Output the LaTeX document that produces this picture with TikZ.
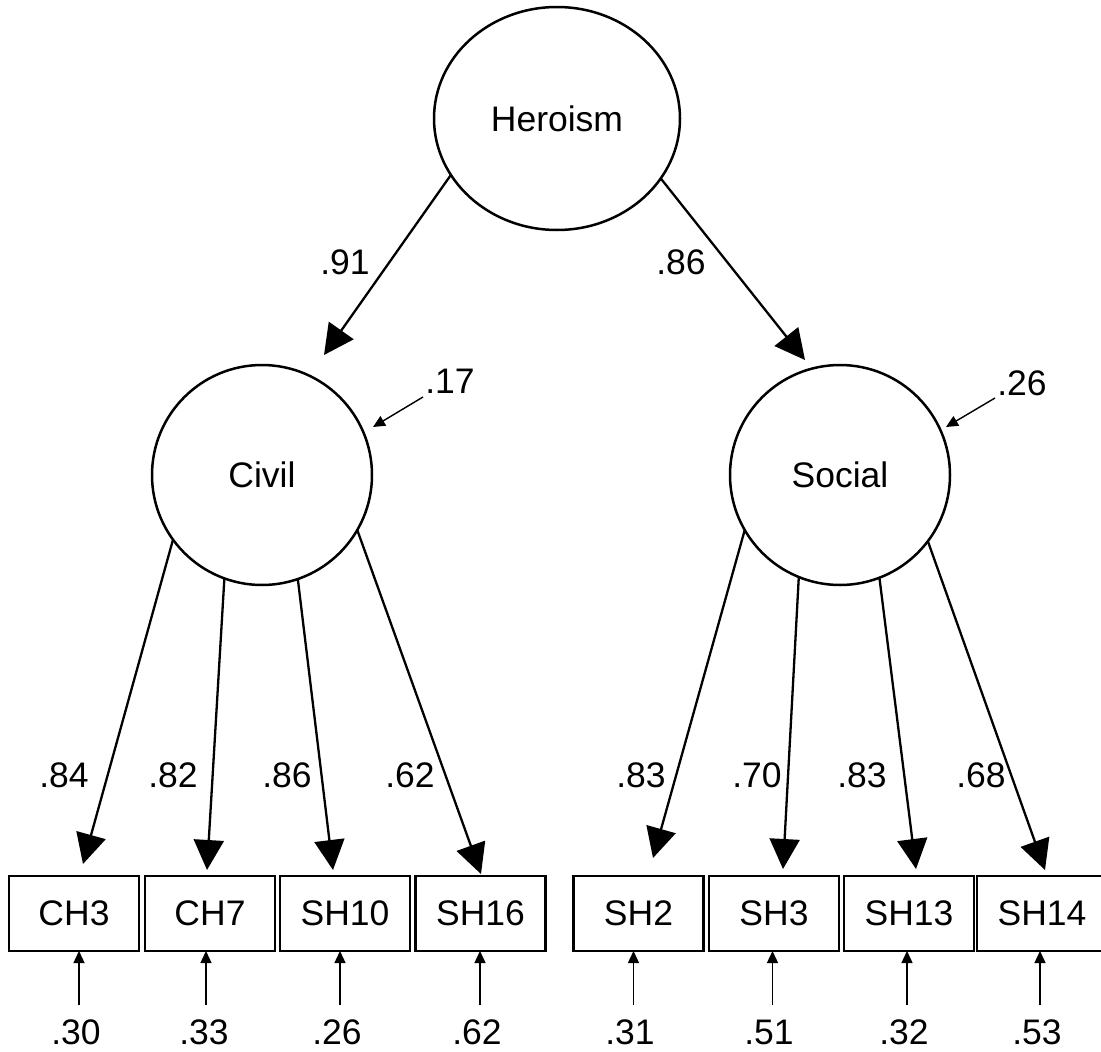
\documentclass[tikz,border=0pt]{standalone}
\usepackage{fontspec}
\setmainfont{Liberation Sans}
\usetikzlibrary{arrows.meta,shapes.geometric}
\begin{document}
\begin{tikzpicture}[x=1pt,y=-1pt,
  every node/.style={font=\fontsize{35.5}{40}\selectfont},
  latent/.style={draw,circle,line width=2.5pt,minimum size=220pt,inner sep=0pt,outer sep=0pt},
  toplat/.style={draw,ellipse,line width=2.5pt,minimum width=246pt,minimum height=223pt,inner sep=0pt,outer sep=0pt},
  obs/.style={draw,rectangle,line width=2.5pt,minimum width=130pt,minimum height=75pt,inner sep=0pt,outer sep=0pt},
  load/.style={line width=2.3pt,-{Triangle[length=30pt,width=30pt]}},
  res/.style={line width=1.4pt,-{Triangle[length=12pt,width=11pt]}},
  lbl/.style={inner sep=0pt}]
\useasboundingbox[fill=white] (0,0) rectangle (1101,1052);
% latent variables
\node[toplat] (her) at (557,118.5) {Heroism};
\node[latent] (civ) at (262,475) {Civil};
\node[latent] (soc) at (840,475) {Social};
% observed variables
\node[obs] (CH3)  at (74,913.5)   {CH3};
\node[obs] (CH7)  at (210,913.5)  {CH7};
\node[obs] (SH10) at (345,913.5)  {SH10};
\node[obs] (SH16) at (480.5,913.5){SH16};
\node[obs] (SH2)  at (638.5,913.5){SH2};
\node[obs] (SH3)  at (774,913.5)  {SH3};
\node[obs] (SH13) at (909,913.5)  {SH13};
\node[obs] (SH14) at (1042,913.5) {SH14};
% arrow tip coordinates
\coordinate (tciv) at (324,355);
\coordinate (tsoc) at (805,360);
\coordinate (tCH3) at (83,864);
\coordinate (tCH7) at (207,870);
\coordinate (tSH10) at (333,870);
\coordinate (tSH16) at (481,874);
\coordinate (tSH2) at (653,858);
\coordinate (tSH3) at (783,869);
\coordinate (tSH13) at (916,869);
\coordinate (tSH14) at (1045,870);
% second-order loadings
\draw[load] (her.208.5) -- (tciv);
\draw[load] (her.330.2) -- (tsoc);
\node[lbl] (l91) at (345,262) {.91};
\node[lbl] (l86) at (681,262) {.86};
% first-order loadings
\draw[load] (civ.216) -- (tCH3);
\draw[load] (civ.250.4) -- (tCH7);
\draw[load] (civ.289.6) -- (tSH10);
\draw[load] (civ.330.4) -- (tSH16);
\draw[load] (soc.210.4) -- (tSH2);
\draw[load] (soc.248.5) -- (tSH3);
\draw[load] (soc.291) -- (tSH13);
\draw[load] (soc.323) -- (tSH14);
\node[lbl] at (64,775) {.84};
\node[lbl] at (173,775) {.82};
\node[lbl] at (287,775) {.86};
\node[lbl] at (410,775) {.62};
\node[lbl] at (641,775) {.83};
\node[lbl] at (757,775) {.70};
\node[lbl] at (862,775) {.83};
\node[lbl] at (981,775) {.68};
% disturbances
\coordinate (dciv) at (423,397);
\coordinate (dcivt) at (373,427);
\coordinate (dsoc) at (995,398);
\coordinate (dsoct) at (946,427);
\draw[res] (dciv) -- (dcivt);
\draw[res] (dsoc) -- (dsoct);
\node[lbl] at (450,381) {.17};
\node[lbl] at (1022,383) {.26};
% residuals
\coordinate (e1) at (79,1005);
\coordinate (e2) at (206,1005);
\coordinate (e3) at (340,1005);
\coordinate (e4) at (480,1005);
\coordinate (e5) at (633.5,1005);
\coordinate (e6) at (772.5,1005);
\coordinate (e7) at (907,1005);
\coordinate (e8) at (1040,1005);
\draw[res] (e1) -- (e1 |- CH3.south);
\draw[res] (e2) -- (e2 |- CH7.south);
\draw[res] (e3) -- (e3 |- SH10.south);
\draw[res] (e4) -- (e4 |- SH16.south);
\draw[res] (e5) -- (e5 |- SH2.south);
\draw[res] (e6) -- (e6 |- SH3.south);
\draw[res] (e7) -- (e7 |- SH13.south);
\draw[res] (e8) -- (e8 |- SH14.south);
\node[lbl] at (76,1032) {.30};
\node[lbl] at (204,1032) {.33};
\node[lbl] at (337,1032) {.26};
\node[lbl] at (477,1032) {.62};
\node[lbl] at (630,1032) {.31};
\node[lbl] at (769,1032) {.51};
\node[lbl] at (904,1032) {.32};
\node[lbl] at (1037,1032) {.53};
\end{tikzpicture}
\end{document}
